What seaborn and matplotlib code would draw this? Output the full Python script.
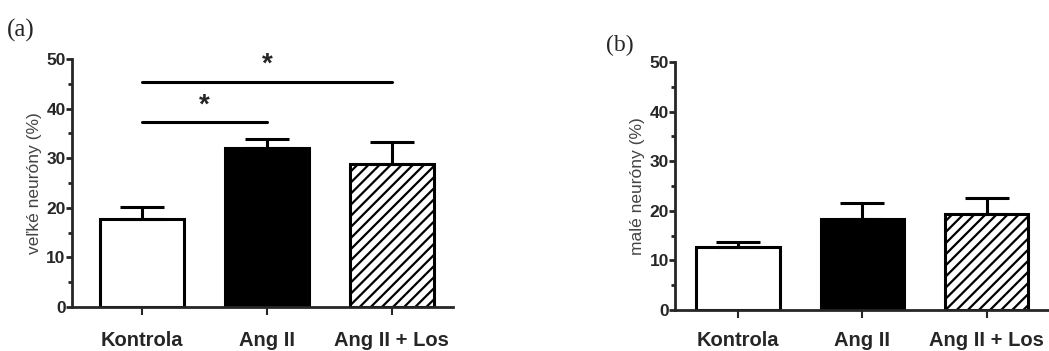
import matplotlib
matplotlib.use("Agg")
import matplotlib.pyplot as plt
import seaborn as sns
import pandas as pd
import numpy as np

groups = ["Kontrola", "Ang II", "Ang II + Los"]
large_mean = [17.7, 32.0, 28.9]
large_sem = [2.5, 1.8, 4.3]
small_mean = [12.8, 18.4, 19.4]
small_sem = [1.0, 3.2, 3.2]
fills = ["white", "black", "white"]
hatches = [None, None, "///"]

sns.set_style("ticks")
plt.rcParams["font.family"] = ["Liberation Sans", "DejaVu Sans"]
plt.rcParams["hatch.linewidth"] = 1.6

fig = plt.figure(figsize=(10.49, 3.51), dpi=100)
ax_a = fig.add_axes([0.0686, 0.1254, 0.3632, 0.7066])
ax_b = fig.add_axes([0.6435, 0.1168, 0.3565, 0.7066])


def draw_panel(ax, means, sems, ylabel, xlim, xpad):
    df = pd.DataFrame({"group": groups, "value": means})
    sns.barplot(data=df, x="group", y="value", ax=ax, width=0.67,
                color="white", edgecolor="black", linewidth=2.2,
                errorbar=None)
    for patch, fc, h in zip(ax.patches, fills, hatches):
        patch.set_facecolor(fc)
        if h:
            patch.set_hatch(h)
    ax.errorbar(np.arange(len(groups)), means, yerr=[np.zeros(len(sems)), sems],
                fmt="none", ecolor="black", elinewidth=2.2, capsize=16,
                capthick=2.2, zorder=1)
    ax.set_ylim(0, 50)
    ax.set_xlim(*xlim)
    ax.set_yticks([0, 10, 20, 30, 40, 50])
    ax.set_yticks([5, 15, 25, 35, 45], minor=True)
    ax.set_ylabel(ylabel, fontsize=12.5, color="#444444", labelpad=3)
    ax.set_xlabel("")
    for lab in ax.get_yticklabels():
        lab.set_fontweight("bold")
        lab.set_fontsize(12.5)
    for lab in ax.get_xticklabels():
        lab.set_fontweight("bold")
        lab.set_fontsize(14.5)
    ax.tick_params(axis="y", which="major", length=4, width=2, pad=0.5)
    ax.tick_params(axis="y", which="minor", length=3, width=2)
    ax.tick_params(axis="x", length=6, width=1.5, pad=xpad)
    sns.despine(ax=ax)
    ax.spines["left"].set_linewidth(2)
    ax.spines["bottom"].set_linewidth(2)
    ax.set_facecolor("none")


draw_panel(ax_a, large_mean, large_sem, "veľké neuróny (%)", (-0.56, 2.49), 11)
draw_panel(ax_b, small_mean, small_sem, "malé neuróny (%)", (-0.506, 2.5), 9)

# significance bars
ax_a.plot([0, 2], [45.4, 45.4], color="black", lw=2.2, clip_on=False)
ax_a.text(1, 46.2, "*", ha="center", va="bottom", fontsize=20, fontweight="bold")
ax_a.plot([0, 1], [37.2, 37.2], color="black", lw=2.2, clip_on=False)
ax_a.text(0.5, 38.0, "*", ha="center", va="bottom", fontsize=20, fontweight="bold")

fig.text(0.007, 0.895, "(a)", fontsize=18, family="Liberation Serif")
fig.text(0.578, 0.855, "(b)", fontsize=17, family="Liberation Serif")

fig.savefig("out.png", dpi=100)
